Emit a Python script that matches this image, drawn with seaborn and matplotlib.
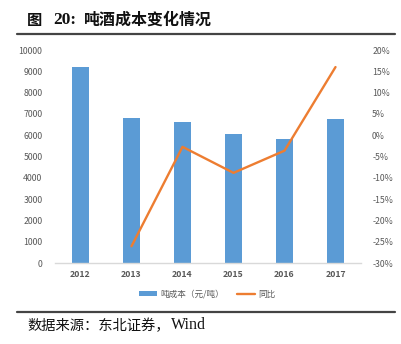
import numpy as np
import pandas as pd
import matplotlib
matplotlib.use("Agg")
import matplotlib.pyplot as plt
import seaborn as sns
from matplotlib.ticker import FuncFormatter
from matplotlib.lines import Line2D
from matplotlib.patches import Patch

# Data
years = ["2012", "2013", "2014", "2015", "2016", "2017"]
cost_per_ton = [9180, 6800, 6620, 6060, 5830, 6760]
yoy_pct = [np.nan, -26.0, -2.7, -8.8, -3.6, 16.0]

title_prefix = "图"
title_number = "20:"
title_body = "吨酒成本变化情况"
source_cn = "数据来源：东北证券，"
source_en = "Wind"
bar_label = "吨成本（元/吨）"
line_label = "同比"

df = pd.DataFrame({"year": years, "cost": cost_per_ton, "yoy": yoy_pct})

sns.set_theme(style="white")
plt.rcParams["font.family"] = ["Noto Sans CJK SC", "DejaVu Sans"]

BAR = "#5B9BD5"
LINE = "#ED7D31"
TICK = "#595959"

fig = plt.figure(figsize=(4.02, 3.44), dpi=100)
ax = fig.add_axes([55 / 402, 1 - 263.3 / 344, 306 / 402, 213.3 / 344])

sns.barplot(data=df, x="year", y="cost", order=years, color=BAR,
            width=0.32, linewidth=0, saturation=1, ax=ax)
ax.set_ylim(0, 10000)
ax.set_yticks(np.arange(0, 10001, 1000))
ax.set_xlabel("")
ax.set_ylabel("")

ax2 = ax.twinx()
sns.lineplot(x=[years.index(y) for y in df["year"]], y=df["yoy"], color=LINE,
             linewidth=1.7, ax=ax2)
ax2.set_ylim(-30, 20)
ax2.set_yticks(np.arange(-30, 21, 5))
ax2.yaxis.set_major_formatter(FuncFormatter(lambda v, p: f"{v:.0f}%"))
ax2.set_ylabel("")
ax.set_xlim(-0.5, len(years) - 0.5)

for a in (ax, ax2):
    for s in a.spines.values():
        s.set_visible(False)
    a.grid(False)
ax.spines["bottom"].set_visible(True)
ax.spines["bottom"].set_color("#D9D9D9")
ax.spines["bottom"].set_linewidth(1.0)

ax.tick_params(axis="y", length=0, labelsize=6.3, labelcolor=TICK, pad=9)
ax2.tick_params(axis="y", length=0, labelsize=6.3, labelcolor=TICK, pad=8)
ax.tick_params(axis="x", length=0, labelsize=6.3, labelcolor=TICK, pad=5)
for lab in ax.get_xticklabels():
    lab.set_fontweight("bold")

handles = [Patch(facecolor=BAR, edgecolor="none"),
           Line2D([0], [0], color=LINE, linewidth=1.7)]
fig.legend(handles, [bar_label, line_label], loc="center",
           bbox_to_anchor=(207 / 402, 1 - 294 / 344), ncol=2, frameon=False,
           fontsize=6.2, labelcolor=TICK, handlelength=2.1, handleheight=0.55,
           columnspacing=1.5, handletextpad=0.35)

# Header and footer
fig.text(27 / 402, 1 - 20 / 344, title_prefix, fontsize=11, fontweight="bold",
         va="center", ha="left", color="#111111")
fig.text(53 / 402, 1 - 20 / 344, title_number, fontsize=12.5, fontweight="bold",
         va="center", ha="left", color="#111111", family="Liberation Serif")
fig.text(84 / 402, 1 - 20 / 344, title_body, fontsize=11.5, fontweight="bold",
         va="center", ha="left", color="#111111")
fig.add_artist(Line2D([17 / 402, 395 / 402], [1 - 33.5 / 344] * 2,
                      color="#444444", linewidth=1.6))
fig.add_artist(Line2D([17 / 402, 395 / 402], [1 - 312 / 344] * 2,
                      color="#444444", linewidth=1.6))
fig.text(27 / 402, 1 - 326 / 344, source_cn, fontsize=10.3, va="center",
         ha="left", color="#111111")
fig.text(171 / 402, 1 - 325 / 344, source_en, fontsize=11.5, va="center",
         ha="left", color="#111111", family="Liberation Serif")

fig.savefig("out.png", dpi=100)
